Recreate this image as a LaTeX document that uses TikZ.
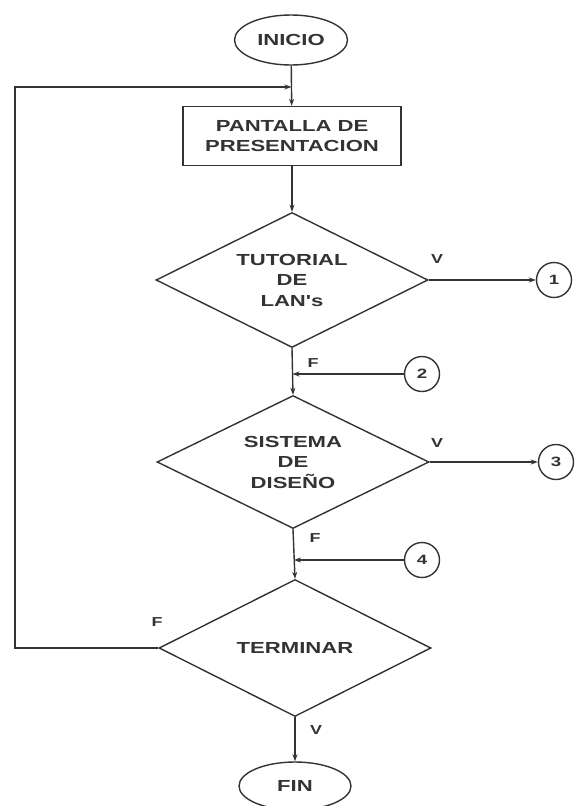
\documentclass[tikz,border=0pt]{standalone}
\usepackage{fontspec}
\newfontfamily\fcfont[FakeStretch=1.38]{Liberation Sans Bold}
\usetikzlibrary{shapes.geometric,arrows.meta}
\definecolor{ink}{gray}{0.2}
\tikzset{
  base/.style={draw=ink, line width=1.4pt, text=ink, font=\fcfont\fontsize{16}{20.5}\selectfont, align=center, inner sep=0pt},
  term/.style={base, ellipse},
  proc/.style={base, rectangle, minimum width=218pt, minimum height=59pt},
  deci/.style={base, diamond, aspect=2, minimum width=272pt, minimum height=135pt},
  conn/.style={base, circle, minimum size=35pt, font=\fcfont\fontsize{13.5}{15}\selectfont},
  lbl/.style={text=ink, font=\fcfont\fontsize{13}{14}\selectfont, inner sep=0pt},
  line/.style={draw=ink, line width=1.4pt},
  arr/.style={line, -{Stealth[length=7pt,width=5pt]}}
}
\begin{document}
\begin{tikzpicture}[x=1pt,y=-1pt]
\useasboundingbox[fill=white] (0,0) rectangle (575,806);
% nodes
\node[term, minimum width=113pt, minimum height=50pt] (inicio) at (291,40) {INICIO};
\node[proc] (box) at (292,136) {PANTALLA DE\\PRESENTACION};
\node[deci] (d1) at (292,280) {TUTORIAL\\DE\\LAN's};
\node[deci, minimum height=133pt] (d2) at (293,462) {SISTEMA\\DE\\DISEÑO};
\node[deci, minimum height=137pt] (d3) at (295,648) {TERMINAR};
\node[term, minimum width=112pt, minimum height=48pt] (fin) at (295,786) {FIN};
\node[conn] (c1) at (554,280) {1};
\node[conn] (c2) at (422,374) {2};
\node[conn] (c3) at (556,462) {3};
\node[conn] (c4) at (422,560) {4};
% junctions
\coordinate (jtop) at (291.5,87);
\coordinate (lx) at (15,0);
\coordinate (j2) at (292.5,374);
\coordinate (j4) at (294,560);
% connectors
\draw[arr] (inicio) -- (box);
\draw[arr] (box) -- (d1);
\draw[arr] (d1.east) -- (c1);
\draw[arr] (d1.south) -- (d2.north);
\draw[arr] (c2) -- (j2);
\draw[arr] (d2.east) -- (c3);
\draw[arr] (d2.south) -- (d3.north);
\draw[arr] (c4) -- (j4);
\draw[arr] (d3.south) -- (fin.north);
\draw[arr] (d3.west) -- (d3.west -| lx) |- (jtop);
% labels
\node[lbl] (v1) at (437,259) {V};
\node[lbl] (f1) at (313,363) {F};
\node[lbl] (v2) at (437,443) {V};
\node[lbl] (f2) at (315,538) {F};
\node[lbl] (f3) at (157,622) {F};
\node[lbl] (v3) at (316,730) {V};
\end{tikzpicture}
\end{document}
